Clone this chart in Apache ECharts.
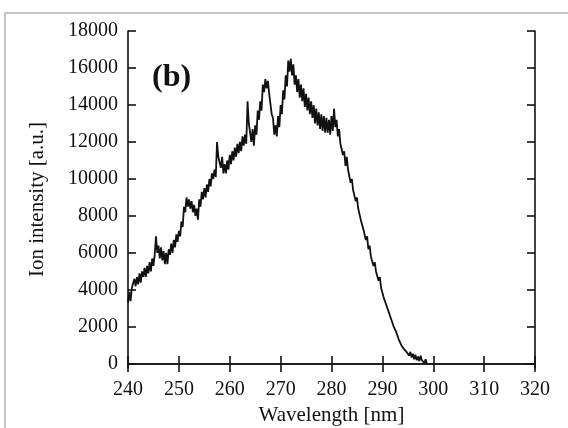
<!DOCTYPE html>
<html><head><meta charset="utf-8">
<script src="https://cdn.jsdelivr.net/npm/echarts@6/dist/echarts.min.js"></script>
<style>html,body{margin:0;padding:0;background:#fff}#c{width:568px;height:428px}</style>
</head><body><div id="c"></div>
<script>
// Wavelength grid of the sampled trace (nm)
const wavelengthStart = 240;
const wavelengthStep = 0.25;
// Ion intensity [a.u.], 4 samples per nm from 240 nm
const intensity = [
  3300, 3900, 3400, 4100,
  4000, 4600, 4200, 4700,
  4300, 4900, 4400, 5000,
  4700, 5200, 4700, 5300,
  4900, 5500, 5000, 5700,
  5300, 5900, 6900, 6000,
  6400, 5700, 6300, 5600,
  6100, 5400, 6000, 5400,
  6200, 5900, 6500, 6000,
  6700, 6300, 7000, 6600,
  7200, 6900, 7700, 7400,
  8500, 8200, 9000, 8500,
  8900, 8400, 8800, 8200,
  8600, 8000, 8400, 7800,
  8900, 8500, 9300, 8900,
  9500, 9000, 9700, 9300,
  10000, 9600, 10300, 10000,
  10500, 10100, 12000, 11200,
  11300, 10600, 11200, 10300,
  10800, 10300, 11000, 10500,
  11300, 10800, 11500, 11000,
  11700, 11200, 11900, 11400,
  12000, 11500, 12300, 11800,
  12400, 11900, 14200, 13000,
  12900, 12000, 12700, 11800,
  12900, 12400, 13700, 13200,
  14200, 13700, 15100, 14700,
  15400, 14900, 15300, 14600,
  14500, 13500, 13300, 12400,
  12900, 12300, 13400, 12800,
  14000, 13500, 14800, 14300,
  15600, 15000, 16400, 15800,
  16500, 15600, 16200, 15100,
  15600, 14700, 15400, 14400,
  15100, 14200, 14900, 13900,
  14600, 13700, 14400, 13500,
  14200, 13300, 14000, 13000,
  13800, 12900, 13600, 12700,
  13500, 12600, 13400, 12500,
  13300, 12500, 13200, 12400,
  13400, 12600, 13800, 12800,
  13200, 12300, 12700, 11900,
  12000, 11300, 11500, 10700,
  11200, 10500, 10500, 9800,
  10000, 9400, 9500, 8800,
  9000, 8400, 8500, 7800,
  7900, 7300, 7400, 6700,
  6900, 6200, 6400, 5800,
  5900, 5300, 5500, 5000,
  5100, 4500, 4700, 4100,
  4200, 3600, 3700, 3200,
  3300, 2800, 2900, 2400,
  2500, 2000, 2100, 1700,
  1700, 1300, 1400, 1000,
  1100, 800, 900, 650,
  750, 450, 650, 350,
  550, 250, 500, 200,
  400, 150, 450, 200,
  300, 50, 250, 0
];
const xTicks = [240, 250, 260, 270, 280, 290, 300, 310, 320];
const yTicks = [0, 2000, 4000, 6000, 8000, 10000, 12000, 14000, 16000, 18000];
const xTitle = 'Wavelength [nm]';
const yTitle = 'Ion intensity [a.u.]';
const panelLabel = '(b)';

const seriesData = intensity.map((v, i) => [wavelengthStart + i * wavelengthStep, v]);

const FONT = '"Liberation Serif", "Times New Roman", serif';
const INK = '#111';

const chart = echarts.init(document.getElementById('c'), null, {renderer: 'canvas'});
const axisLineStyle = {color: INK, width: 1.6};
const tickStyle = {color: INK, width: 1.6};
const plain = v => String(v);

chart.setOption({
  animation: false,
  backgroundColor: '#fff',
  grid: {left: 128, right: 33, top: 31, bottom: 60, containLabel: false, outerBoundsMode: 'none'},
  graphic: [
    {type: 'rect', silent: true, z: -10,
     shape: {x: 5, y: 13, width: 620, height: 500},
     style: {fill: 'none', stroke: '#c4c4c4', lineWidth: 2}},
    {type: 'text', left: 152, top: 62, z: 10,
     style: {text: panelLabel, font: 'bold 32px ' + FONT, fill: INK}}
  ],
  xAxis: [
    {type: 'value', position: 'bottom', min: 240, max: 320, interval: 10,
     axisLine: {show: true, lineStyle: axisLineStyle},
     axisTick: {show: true, inside: true, length: 8, lineStyle: tickStyle},
     axisLabel: {show: true, margin: 12, fontFamily: FONT, fontSize: 20, color: INK,
       customValues: xTicks, formatter: plain},
     splitLine: {show: false},
     name: xTitle, nameLocation: 'middle', nameGap: 33,
     nameTextStyle: {fontFamily: FONT, fontSize: 21, color: INK}},
    {type: 'value', position: 'top', min: 240, max: 320, interval: 10,
     axisLine: {show: true, lineStyle: axisLineStyle},
     axisTick: {show: true, inside: true, length: 8, lineStyle: tickStyle},
     axisLabel: {show: false}, splitLine: {show: false}}
  ],
  yAxis: [
    {type: 'value', position: 'left', min: -220, max: 18000,
     axisLine: {show: true, lineStyle: axisLineStyle},
     axisTick: {show: true, inside: true, length: 8, lineStyle: tickStyle, customValues: yTicks},
     axisLabel: {show: true, margin: 10, fontFamily: FONT, fontSize: 20, color: INK,
       customValues: yTicks, formatter: plain},
     splitLine: {show: false},
     name: yTitle, nameLocation: 'middle', nameGap: 80, nameRotate: 90,
     nameTextStyle: {fontFamily: FONT, fontSize: 21, color: INK}},
    {type: 'value', position: 'right', min: -220, max: 18000,
     axisLine: {show: true, lineStyle: axisLineStyle},
     axisTick: {show: true, inside: true, length: 8, lineStyle: tickStyle, customValues: yTicks},
     axisLabel: {show: false}, splitLine: {show: false}}
  ],
  series: [{
    type: 'line', xAxisIndex: 0, yAxisIndex: 0,
    data: seriesData, showSymbol: false, symbol: 'none',
    lineStyle: {color: INK, width: 1.8}, smooth: false
  }]
});
</script>
</body></html>
